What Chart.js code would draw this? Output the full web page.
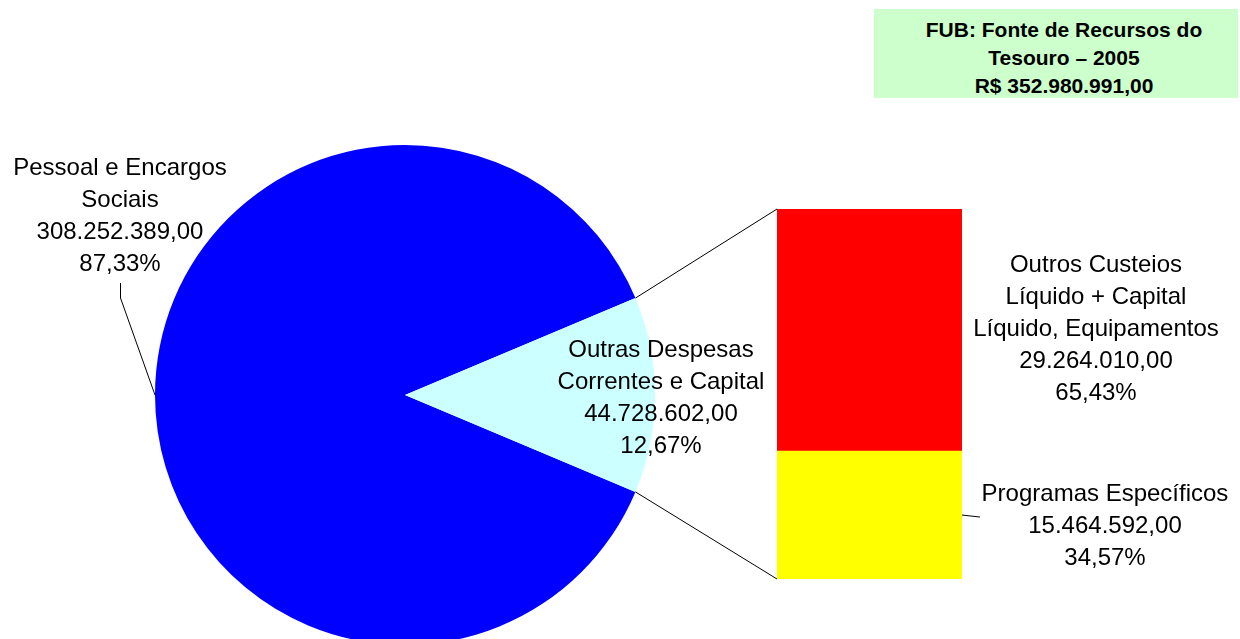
<!DOCTYPE html>
<html lang="pt">
<head>
<meta charset="UTF-8">
<title>FUB: Fonte de Recursos do Tesouro – 2005</title>
<script src="https://cdn.jsdelivr.net/npm/chart.js"></script>
<style>
    html, body {
        margin: 0;
        padding: 0;
        width: 1240px;
        height: 639px;
        overflow: hidden;
        background: #fff;
        font-family: "Liberation Sans", Arial, sans-serif;
        color: #000;
    }
    .abs { position: absolute; }
    #pieBox { left: 155px; top: 145px; width: 500px; height: 500px; }
    #barBox { left: 777px; top: 209px; width: 185px; height: 370px; }
    #lines { left: 0; top: 0; }
    .label {
        font-size: 24px;
        line-height: 32px;
        text-align: center;
        white-space: nowrap;
    }
    #titleBg { left: 874px; top: 9px; width: 364px; height: 89px; background: #ccffcc; }
    #title {
        left: 924px; top: 16px; width: 280px;
        font-size: 21px; line-height: 28px; font-weight: bold;
        text-align: center; white-space: nowrap;
    }
</style>
</head>
<body>
<div id="titleBg" class="abs"></div>
<div id="title" class="abs">FUB: Fonte de Recursos do<br>Tesouro – 2005<br>R$ 352.980.991,00</div>

<div id="pieBox" class="abs"><canvas id="pieChart"></canvas></div>
<div id="barBox" class="abs"><canvas id="barChart"></canvas></div>
<canvas id="lines" class="abs" width="1240" height="639"></canvas>

<div class="abs label" style="left:0px;top:151px;width:240px;">Pessoal e Encargos<br>Sociais<br>308.252.389,00<br>87,33%</div>
<div class="abs label" style="left:541px;top:333px;width:240px;">Outras Despesas<br>Correntes e Capital<br>44.728.602,00<br>12,67%</div>
<div class="abs label" style="left:965px;top:248px;width:262px;">Outros Custeios<br>Líquido + Capital<br>Líquido, Equipamentos<br>29.264.010,00<br>65,43%</div>
<div class="abs label" style="left:974px;top:477px;width:262px;">Programas Específicos<br>15.464.592,00<br>34,57%</div>

<script>
    // pie: total split
    const pieLabels = ['Pessoal e Encargos Sociais', 'Outras Despesas Correntes e Capital'];
    const pieValues = [308252389, 44728602];
    const pieColors = ['#0000ff', '#ccffff'];

    // bar: breakdown of "Outras Despesas"
    const barLabels = ['Programas Específicos', 'Outros Custeios Líquido + Capital Líquido, Equipamentos'];
    const barValues = [15464592, 29264010];
    const barColors = ['#ffff00', '#ff0000'];

    const total = pieValues[0] + pieValues[1];
    const otherTotal = barValues[0] + barValues[1];

    // put the middle of the small slice at 3 o'clock
    const rotation = 90 - 360 * pieValues[0] / total - 180 * pieValues[1] / total;

    const pie = new Chart(document.getElementById('pieChart'), {
        type: 'pie',
        data: {
            labels: pieLabels,
            datasets: [{
                data: pieValues,
                backgroundColor: pieColors,
                borderWidth: 0
            }]
        },
        options: {
            responsive: true,
            maintainAspectRatio: false,
            animation: false,
            rotation: rotation,
            layout: { padding: 0 },
            plugins: { legend: { display: false }, tooltip: { enabled: false } }
        }
    });

    const bar = new Chart(document.getElementById('barChart'), {
        type: 'bar',
        data: {
            labels: ['Outras'],
            datasets: barValues.map((v, i) => ({
                label: barLabels[i],
                data: [v],
                backgroundColor: barColors[i],
                borderWidth: 0,
                barPercentage: 1,
                categoryPercentage: 1
            }))
        },
        options: {
            responsive: true,
            maintainAspectRatio: false,
            animation: false,
            layout: { padding: 0 },
            scales: {
                x: { stacked: true, display: false },
                y: { stacked: true, display: false, min: 0, max: otherTotal }
            },
            plugins: { legend: { display: false }, tooltip: { enabled: false } }
        }
    });

    function drawConnectors() {
        const ctx = document.getElementById('lines').getContext('2d');
        const pieBox = document.getElementById('pieBox');
        const barBox = document.getElementById('barBox');
        const px = pieBox.offsetLeft, py = pieBox.offsetTop;
        const bx = barBox.offsetLeft, by = barBox.offsetTop;

        const arc = pie.getDatasetMeta(0).data[1];
        const cx = arc.x + px, cy = arc.y + py, r = arc.outerRadius;
        const a1 = arc.startAngle, a2 = arc.endAngle;

        const redBar = bar.getDatasetMeta(1).data[0];
        const yellowBar = bar.getDatasetMeta(0).data[0];
        const barLeft = redBar.x - redBar.width / 2 + bx;
        const barRight = redBar.x + redBar.width / 2 + bx;

        ctx.strokeStyle = '#000';
        ctx.lineWidth = 1;
        ctx.beginPath();
        // slice edges to bar corners (upper edge -> top, lower edge -> bottom)
        ctx.moveTo(cx + r * Math.cos(a1), cy + r * Math.sin(a1));
        ctx.lineTo(barLeft, redBar.y + by);
        ctx.moveTo(cx + r * Math.cos(a2), cy + r * Math.sin(a2));
        ctx.lineTo(barLeft, yellowBar.base + by);

        // leader for "Pessoal" label
        ctx.moveTo(120.5, 283);
        ctx.lineTo(120.5, 298);
        ctx.lineTo(cx - r, cy);

        // leader for "Programas" label
        const ymid = (yellowBar.y + yellowBar.base) / 2 + by;
        ctx.moveTo(barRight, ymid);
        ctx.lineTo(barRight + 18, ymid + 2);
        ctx.stroke();
    }

    drawConnectors();
</script>
</body>
</html>
